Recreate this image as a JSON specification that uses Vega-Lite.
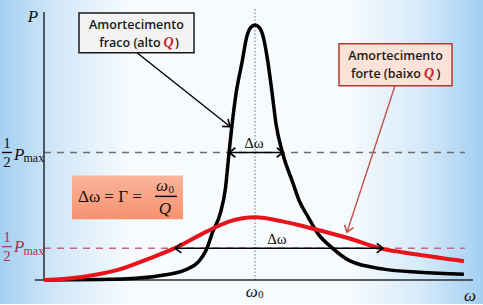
{
"$schema": "https://vega.github.io/schema/vega-lite/v6.json",
"width": 483, "height": 305,
"autosize": {"type": "fit", "contains": "padding"},
"padding": 0,
"config": {"view": {"stroke": null}},
"datasets": {
 "bg": [{"w": -0.20853, "w2": 2.08057, "p": -0.09375, "p2": 1.09766}],
 "black": [{"w":0,"p":0},{"w":0.27,"p":0.002},{"w":0.45,"p":0.008},{"w":0.57,"p":0.02},{"w":0.67,"p":0.04},{"w":0.73,"p":0.07},{"w":0.77,"p":0.12},{"w":0.8,"p":0.19},{"w":0.835,"p":0.26},{"w":0.86,"p":0.36},{"w":0.877,"p":0.5},{"w":0.89,"p":0.6},{"w":0.91,"p":0.73},{"w":0.94,"p":0.86},{"w":0.96,"p":0.95},{"w":0.98,"p":0.99},{"w":1.0,"p":1.0},{"w":1.02,"p":0.99},{"w":1.04,"p":0.95},{"w":1.06,"p":0.86},{"w":1.08,"p":0.74},{"w":1.1,"p":0.61},{"w":1.13,"p":0.5},{"w":1.18,"p":0.38},{"w":1.21,"p":0.31},{"w":1.25,"p":0.25},{"w":1.3,"p":0.18},{"w":1.36,"p":0.13},{"w":1.45,"p":0.075},{"w":1.61,"p":0.043},{"w":1.78,"p":0.031},{"w":1.99,"p":0.023}],
 "red": [{"w":0,"p":0},{"w":0.18,"p":0.012},{"w":0.27,"p":0.025},{"w":0.35,"p":0.04},{"w":0.5,"p":0.085},{"w":0.62,"p":0.125},{"w":0.77,"p":0.19},{"w":0.88,"p":0.23},{"w":1.0,"p":0.246},{"w":1.13,"p":0.23},{"w":1.21,"p":0.215},{"w":1.29,"p":0.198},{"w":1.44,"p":0.165},{"w":1.59,"p":0.125},{"w":1.77,"p":0.1},{"w":1.99,"p":0.074}],
 "axes": [{"w":0,"w2":0,"p":0,"p2":1.051},{"w":-0.043,"w2":2.033,"p":0,"p2":0}],
 "dotted": [{"w":1.0,"w2":1.0,"p":0,"p2":1.066}],
 "halfBlack": [{"w":0,"w2":1.995,"p":0.5,"p2":0.5}],
 "halfRed": [{"w":0,"w2":1.995,"p":0.125,"p2":0.125}],
 "blackSegs": [{"w":0.877,"w2":1.133,"p":0.5,"p2":0.5},{"w":0.621,"w2":1.607,"p":0.125,"p2":0.125},{"w":0.441,"w2":0.8815,"p":0.891,"p2":0.6016},{"w":-0.199,"w2":-0.152,"p":0.5,"p2":0.5},{"w":0.526,"w2":0.63,"p":0.328,"p2":0.328}],
 "redSegs": [{"w":1.6635,"w2":1.436,"p":0.7617,"p2":0.1875}],
 "redFracBar": [{"w":-0.199,"w2":-0.152,"p":0.131,"p2":0.131}],
 "headsRight": [{"w":1.133,"p":0.5},{"w":1.607,"p":0.125}],
 "headsLeft": [{"w":0.877,"p":0.5},{"w":0.621,"p":0.125}],
 "head1": [{"w":0.8815,"p":0.6016}],
 "head2": [{"w":1.436,"p":0.1875}],
 "box1": [{"w":0.166,"w2":0.711,"p":0.891,"p2":1.047}],
 "box2": [{"w":1.398,"w2":1.934,"p":0.762,"p2":0.926}],
 "box3": [{"w":0.1327,"w2":0.6588,"p":0.238,"p2":0.41}],
 "sansCenter": [{"w":0.438,"p":1.0,"t":"Amortecimento"},{"w":1.666,"p":0.877,"t":"Amortecimento"}],
 "sansRight": [{"w":0.553,"p":0.93,"t":"fraco (alto"},{"w":1.786,"p":0.806,"t":"forte (baixo"}],
 "sansLeft": [{"w":0.621,"p":0.93,"t":")"},{"w":1.86,"p":0.806,"t":")"}],
 "qRed": [{"w":0.59,"p":0.93,"t":"Q"},{"w":1.825,"p":0.806,"t":"Q"}],
 "mathItalic": [{"w":-0.052,"p":1.031,"t":"P"},{"w":2.019,"p":-0.0625,"t":"ω"},{"w":0.985,"p":-0.047,"t":"ω"},{"w":0.559,"p":0.367,"t":"ω"},{"w":0.573,"p":0.277,"t":"Q"},{"w":-0.118,"p":0.492,"t":"P"}],
 "mathRegular": [{"w":0.995,"p":0.539,"t":"Δω"},{"w":1.104,"p":0.16,"t":"Δω"},{"w":-0.175,"p":0.539,"t":"1"},{"w":-0.175,"p":0.461,"t":"2"}],
 "mathSub": [{"w":1.027,"p":-0.059,"t":"0"},{"w":0.603,"p":0.352,"t":"0"}],
 "maxBlack": [{"w":-0.097,"p":0.48,"t":"max"}],
 "formula": [{"w":0.161,"p":0.324,"t":"Δω = Γ ="}],
 "redRegular": [{"w":-0.175,"p":0.168,"t":"1"},{"w":-0.175,"p":0.094,"t":"2"}],
 "redItalic": [{"w":-0.118,"p":0.129,"t":"P"}],
 "maxRed": [{"w":-0.097,"p":0.113,"t":"max"}]
},
"encoding": {
 "x": {"field": "w", "type": "quantitative", "scale": {"domain": [-0.20853, 2.08057], "nice": false, "zero": false}, "axis": null},
 "y": {"field": "p", "type": "quantitative", "scale": {"domain": [-0.09375, 1.09766], "nice": false, "zero": false}, "axis": null}
},
"layer": [
 {"data": {"name": "bg"}, "mark": {"type": "rect", "fill": {"gradient": "linear", "x1": 0, "y1": 0, "x2": 1, "y2": 0, "stops": [{"offset": 0, "color": "#a5d0f2"}, {"offset": 0.12, "color": "#d3e8f9"}, {"offset": 0.27, "color": "#f7fbfe"}, {"offset": 0.72, "color": "#f7fbfe"}, {"offset": 0.87, "color": "#d6eaf9"}, {"offset": 1, "color": "#a3cff2"}]}},
  "encoding": {"x2": {"field": "w2"}, "y2": {"field": "p2"}}},
 {"data": {"name": "halfBlack"}, "mark": {"type": "rule", "color": "#6e6e6e", "strokeWidth": 1.5, "strokeDash": [7, 6]}, "encoding": {"x2": {"field": "w2"}, "y2": {"field": "p2"}}},
 {"data": {"name": "halfRed"}, "mark": {"type": "rule", "color": "#c26a84", "strokeWidth": 1.5, "strokeDash": [7, 6]}, "encoding": {"x2": {"field": "w2"}, "y2": {"field": "p2"}}},
 {"data": {"name": "dotted"}, "mark": {"type": "rule", "color": "#8a8a8a", "strokeWidth": 1.2, "strokeDash": [1.5, 2]}, "encoding": {"x2": {"field": "w2"}, "y2": {"field": "p2"}}},
 {"data": {"name": "axes"}, "mark": {"type": "rule", "color": "#2b2b2b", "strokeWidth": 1.5}, "encoding": {"x2": {"field": "w2"}, "y2": {"field": "p2"}}},
 {"data": {"name": "box3"}, "mark": {"type": "rect", "fill": {"gradient": "linear", "x1": 0, "y1": 0, "x2": 0, "y2": 1, "stops": [{"offset": 0, "color": "#fbb49c"}, {"offset": 1, "color": "#f7916f"}]}}, "encoding": {"x2": {"field": "w2"}, "y2": {"field": "p2"}}},
 {"data": {"name": "black"}, "mark": {"type": "line", "interpolate": "monotone", "color": "#000000", "strokeWidth": 3.5}},
 {"data": {"name": "red"}, "mark": {"type": "line", "interpolate": "monotone", "color": "#e8141b", "strokeWidth": 4}},
 {"data": {"name": "blackSegs"}, "mark": {"type": "rule", "color": "#000000", "strokeWidth": 1.4}, "encoding": {"x2": {"field": "w2"}, "y2": {"field": "p2"}}},
 {"data": {"name": "redFracBar"}, "mark": {"type": "rule", "color": "#b0304a", "strokeWidth": 1.2}, "encoding": {"x2": {"field": "w2"}, "y2": {"field": "p2"}}},
 {"data": {"name": "redSegs"}, "mark": {"type": "rule", "color": "#c4534a", "strokeWidth": 1.4}, "encoding": {"x2": {"field": "w2"}, "y2": {"field": "p2"}}},
 {"data": {"name": "headsRight"}, "mark": {"type": "point", "shape": "M-1,-0.75L0,0L-1,0.75", "filled": false, "stroke": "#000000", "strokeWidth": 1.6, "size": 160, "angle": 0, "opacity": 1}},
 {"data": {"name": "headsLeft"}, "mark": {"type": "point", "shape": "M-1,-0.75L0,0L-1,0.75", "filled": false, "stroke": "#000000", "strokeWidth": 1.6, "size": 160, "angle": 180, "opacity": 1}},
 {"data": {"name": "head1"}, "mark": {"type": "point", "shape": "M-1,-0.75L0,0L-1,0.75", "filled": false, "stroke": "#000000", "strokeWidth": 1.6, "size": 160, "angle": 38.5, "opacity": 1}},
 {"data": {"name": "head2"}, "mark": {"type": "point", "shape": "M-1,-0.75L0,0L-1,0.75", "filled": false, "stroke": "#c4534a", "strokeWidth": 1.6, "size": 160, "angle": 108.1, "opacity": 1}},
 {"data": {"name": "box1"}, "mark": {"type": "rect", "fill": "#f3f3f3", "stroke": "#1a1a1a", "strokeWidth": 1.5}, "encoding": {"x2": {"field": "w2"}, "y2": {"field": "p2"}}},
 {"data": {"name": "box2"}, "mark": {"type": "rect", "fill": "#fce2d7", "stroke": "#b23a30", "strokeWidth": 1.5}, "encoding": {"x2": {"field": "w2"}, "y2": {"field": "p2"}}},
 {"data": {"name": "sansCenter"}, "mark": {"type": "text", "font": "Open Sans", "fontSize": 12.5, "fontWeight": 600, "color": "#1a1a1a", "align": "center", "baseline": "middle"}, "encoding": {"text": {"field": "t"}}},
 {"data": {"name": "sansRight"}, "mark": {"type": "text", "font": "Open Sans", "fontSize": 12.5, "fontWeight": 600, "color": "#1a1a1a", "align": "right", "baseline": "middle"}, "encoding": {"text": {"field": "t"}}},
 {"data": {"name": "sansLeft"}, "mark": {"type": "text", "font": "Open Sans", "fontSize": 12.5, "fontWeight": 600, "color": "#1a1a1a", "align": "left", "baseline": "middle"}, "encoding": {"text": {"field": "t"}}},
 {"data": {"name": "qRed"}, "mark": {"type": "text", "font": "Liberation Serif", "fontSize": 14, "fontStyle": "italic", "fontWeight": "bold", "color": "#c8232a", "align": "center", "baseline": "middle"}, "encoding": {"text": {"field": "t"}}},
 {"data": {"name": "mathItalic"}, "mark": {"type": "text", "font": "Liberation Serif", "fontSize": 17, "fontStyle": "italic", "color": "#111111", "align": "center", "baseline": "middle"}, "encoding": {"text": {"field": "t"}}},
 {"data": {"name": "mathRegular"}, "mark": {"type": "text", "font": "Liberation Serif", "fontSize": 15, "color": "#111111", "align": "center", "baseline": "middle"}, "encoding": {"text": {"field": "t"}}},
 {"data": {"name": "mathSub"}, "mark": {"type": "text", "font": "Liberation Serif", "fontSize": 11, "color": "#111111", "align": "center", "baseline": "middle"}, "encoding": {"text": {"field": "t"}}},
 {"data": {"name": "maxBlack"}, "mark": {"type": "text", "font": "Liberation Serif", "fontSize": 12, "color": "#111111", "align": "left", "baseline": "middle"}, "encoding": {"text": {"field": "t"}}},
 {"data": {"name": "formula"}, "mark": {"type": "text", "font": "Liberation Serif", "fontSize": 17, "color": "#111111", "align": "left", "baseline": "middle"}, "encoding": {"text": {"field": "t"}}},
 {"data": {"name": "redRegular"}, "mark": {"type": "text", "font": "Liberation Serif", "fontSize": 15, "color": "#b0304a", "align": "center", "baseline": "middle"}, "encoding": {"text": {"field": "t"}}},
 {"data": {"name": "redItalic"}, "mark": {"type": "text", "font": "Liberation Serif", "fontSize": 17, "fontStyle": "italic", "color": "#b0304a", "align": "center", "baseline": "middle"}, "encoding": {"text": {"field": "t"}}},
 {"data": {"name": "maxRed"}, "mark": {"type": "text", "font": "Liberation Serif", "fontSize": 12, "color": "#b0304a", "align": "left", "baseline": "middle"}, "encoding": {"text": {"field": "t"}}}
]
}
